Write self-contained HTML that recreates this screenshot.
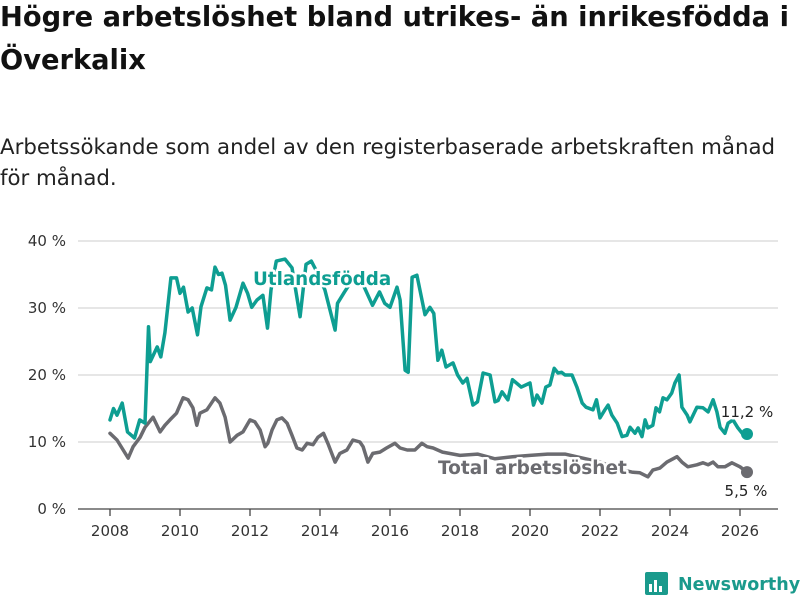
<!DOCTYPE html>
<html><head><meta charset="utf-8">
<style>
body{margin:0;background:#fff;width:800px;height:600px;overflow:hidden;font-family:"DejaVu Sans","Liberation Sans",sans-serif}
h1{position:absolute;left:0;top:-4px;margin:0;font-size:27.3px;line-height:43px;font-weight:bold;color:#111;width:800px}
.sub{position:absolute;left:0;top:132px;font-size:21.3px;line-height:31px;color:#222;width:800px}
svg{position:absolute;left:0;top:0}
</style></head><body>
<h1>Högre arbetslöshet bland utrikes- än inrikesfödda i Överkalix</h1>
<div class="sub">Arbetssökande som andel av den registerbaserade arbetskraften månad för månad.</div>
<svg id="chart" width="800" height="600"></svg>
<script>
const yTicks=[0,10,20,30,40];
const xTicks=[2008,2010,2012,2014,2016,2018,2020,2022,2024,2026];
const uDates=[2008.0,2008.1,2008.2,2008.35,2008.5,2008.7,2008.85,2009.0,2009.1,2009.15,2009.35,2009.45,2009.57,2009.74,2009.9,2010.0,2010.1,2010.23,2010.35,2010.5,2010.6,2010.77,2010.9,2011.0,2011.1,2011.2,2011.3,2011.43,2011.6,2011.8,2011.93,2012.05,2012.2,2012.37,2012.5,2012.6,2012.75,2013.0,2013.2,2013.43,2013.6,2013.75,2013.95,2014.14,2014.43,2014.5,2014.7,2014.9,2015.1,2015.3,2015.5,2015.7,2015.85,2016.0,2016.2,2016.29,2016.43,2016.52,2016.63,2016.77,2017.0,2017.14,2017.25,2017.37,2017.48,2017.6,2017.8,2017.93,2018.08,2018.2,2018.37,2018.5,2018.66,2018.86,2019.0,2019.09,2019.2,2019.37,2019.5,2019.75,2020.0,2020.1,2020.2,2020.34,2020.45,2020.57,2020.69,2020.8,2020.9,2021.0,2021.2,2021.34,2021.49,2021.6,2021.8,2021.9,2022.0,2022.14,2022.23,2022.34,2022.49,2022.63,2022.77,2022.86,2023.0,2023.09,2023.2,2023.29,2023.37,2023.51,2023.6,2023.7,2023.8,2023.91,2024.05,2024.14,2024.26,2024.34,2024.49,2024.57,2024.77,2024.94,2025.09,2025.23,2025.34,2025.43,2025.57,2025.66,2025.8,2025.94,2026.08,2026.2];
const uVals=[13.3,15,14,15.8,11.5,10.6,13.3,12.8,27.2,22,24.2,22.7,26.3,34.5,34.5,32.2,33.1,29.4,30,26,30.2,33,32.7,36.1,35,35.2,33.4,28.2,30.1,33.7,32.2,30.1,31.2,31.9,27,32.7,37,37.3,36,28.7,36.5,37,35,32.7,26.7,30.7,32.4,34,35,32.7,30.4,32.4,30.7,30.1,33.1,31.2,20.7,20.4,34.6,34.9,29,30.1,29.2,22.2,23.7,21.2,21.8,20,18.8,19.5,15.5,16,20.3,20,16,16.2,17.5,16.3,19.3,18.2,18.8,15.5,17,15.8,18.2,18.5,21,20.3,20.4,20,20,18.2,15.8,15.2,14.8,16.3,13.6,14.8,15.5,14,12.8,10.8,11,12.2,11.3,12.1,10.8,13.3,12.1,12.5,15.1,14.5,16.6,16.3,17.3,18.8,20,15.2,14,13,15.2,15.1,14.5,16.3,14.5,12.2,11.3,12.8,13.3,12.1,11.2];
const tDates=[2008.0,2008.2,2008.52,2008.66,2008.76,2008.86,2009.0,2009.23,2009.43,2009.57,2009.71,2009.9,2010.09,2010.23,2010.37,2010.48,2010.57,2010.77,2011.0,2011.14,2011.29,2011.43,2011.63,2011.8,2012.0,2012.14,2012.29,2012.43,2012.51,2012.63,2012.77,2012.91,2013.06,2013.2,2013.34,2013.49,2013.63,2013.8,2013.94,2014.1,2014.24,2014.43,2014.57,2014.77,2014.94,2015.14,2015.23,2015.37,2015.51,2015.71,2015.9,2016.14,2016.29,2016.49,2016.71,2016.91,2017.06,2017.23,2017.5,2018.0,2018.5,2019.0,2019.5,2020.0,2020.5,2021.0,2021.5,2022.0,2022.5,2022.91,2023.14,2023.37,2023.51,2023.71,2023.91,2024.2,2024.34,2024.51,2024.77,2024.94,2025.09,2025.23,2025.37,2025.57,2025.77,2026.0,2026.2];
const tVals=[11.3,10.3,7.6,9.3,10,10.7,12.2,13.7,11.5,12.5,13.3,14.3,16.6,16.3,15.1,12.5,14.3,14.8,16.6,15.8,13.7,10,11,11.5,13.3,13,11.8,9.3,9.8,11.8,13.3,13.6,12.8,11,9.1,8.8,9.8,9.6,10.7,11.3,9.6,7,8.3,8.8,10.3,10,9.3,7,8.3,8.5,9.1,9.8,9.1,8.8,8.8,9.8,9.3,9.1,8.5,8,8.2,7.5,7.8,8,8.2,8.2,7.6,7,6,5.5,5.4,4.8,5.8,6.1,7,7.8,7,6.3,6.6,6.9,6.6,7,6.3,6.3,6.9,6.3,5.5];
const NS='http://www.w3.org/2000/svg';
const svg=document.getElementById('chart');
const X=v=>110+(v-2008)*35;
const Y=v=>509-v*6.7;
function mk(tag,attrs,parent){const e=document.createElementNS(NS,tag);for(const k in attrs)e.setAttribute(k,attrs[k]);(parent||svg).appendChild(e);return e;}
yTicks.forEach(t=>{
  const l=mk('line',{x1:78,x2:778,y1:Y(t),y2:Y(t),stroke:t===0?'#444':'#ddd','stroke-width':t===0?1.3:1.5});
  
  
  const tx=mk('text',{x:66,y:Y(t)+5,'text-anchor':'end','font-size':15,fill:'#333','font-family':'DejaVu Sans, Liberation Sans, sans-serif'});
  tx.textContent=t+' %';
  
  
});
xTicks.forEach(t=>{
  const l=mk('line',{x1:X(t),x2:X(t),y1:509,y2:516,stroke:'#444','stroke-width':1.3});
  
  
  const tx=mk('text',{x:X(t),y:536,'text-anchor':'middle','font-size':15,fill:'#333','font-family':'DejaVu Sans, Liberation Sans, sans-serif'});
  tx.textContent=t;
  
  
});
function line(d,v,col,name){
  const p=d.map((x,i)=>(i?'L':'M')+X(x).toFixed(1)+','+Y(v[i]).toFixed(1)).join('');
  const e=mk('path',{d:p,fill:'none',stroke:col,'stroke-width':3.5,'stroke-linejoin':'round','stroke-linecap':'round'});
  
  
  const c=mk('circle',{cx:X(d[d.length-1]),cy:Y(v[v.length-1]),r:6,fill:col});
  
  
}
line(tDates,tVals,'#6b6b70','total-line');
line(uDates,uVals,'#0e9e92','utlandsfodda-line');
function lbl(txt,x,y,col,size,bold,anchor,name){
  const t=mk('text',{x:x,y:y,fill:col,'font-size':size,'font-weight':bold?'bold':'normal','text-anchor':anchor,stroke:'#fff','stroke-width':5,'paint-order':'stroke','stroke-linejoin':'round','font-family':'DejaVu Sans, Liberation Sans, sans-serif'});
  t.textContent=txt;
  
  
}
lbl('Utlandsfödda',253,285,'#0e9e92',18.3,true,'start','utlandsfodda-label');
lbl('Total arbetslöshet',438,474,'#6b6b70',18.5,true,'start','total-label');
lbl('11,2 %',747,417,'#222',15,false,'middle','utlandsfodda-end-value');
lbl('5,5 %',746,496,'#222',15,false,'middle','total-end-value');
const g=mk('g',{});


mk('rect',{x:645,y:572,width:23,height:23,rx:2,fill:'#1a9a8c'},g);
mk('rect',{x:649,y:584,width:3,height:8,fill:'#fff'},g);
mk('rect',{x:654,y:580,width:3,height:12,fill:'#fff'},g);
mk('rect',{x:659,y:586,width:3,height:6,fill:'#fff'},g);
const lt=mk('text',{x:678,y:590,fill:'#1a9a8c','font-size':17.5,'font-weight':'bold','font-family':'DejaVu Sans, Liberation Sans, sans-serif'},g);
lt.textContent='Newsworthy';
</script>
</body></html>
